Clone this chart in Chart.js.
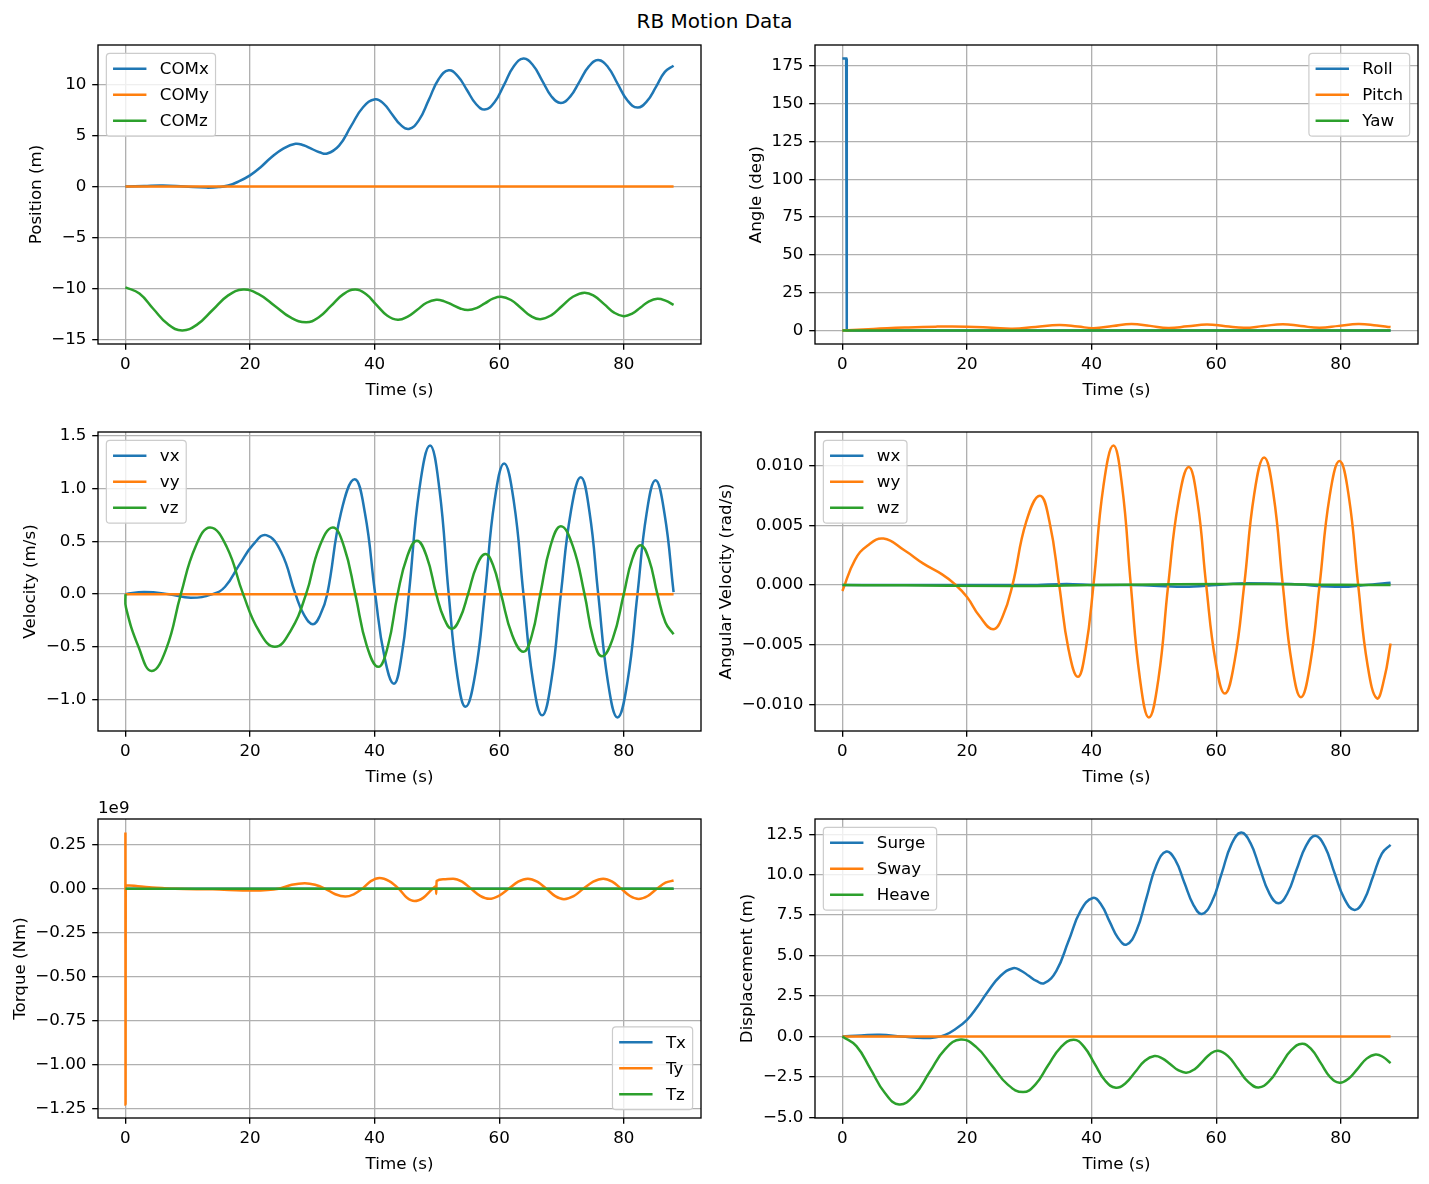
<!DOCTYPE html>
<html>
<head>
<meta charset="utf-8">
<title>RB Motion Data</title>
<script src="https://cdn.jsdelivr.net/npm/chart.js@4.4.0/dist/chart.umd.min.js"></script>
<style>
    html, body { margin: 0; padding: 0; background: #fff; }
    #page { position: relative; width: 1429px; height: 1184px; overflow: hidden; }
    #title { position: absolute; left: 0; top: 11px; width: 1429px; text-align: center;
             font-family: 'DejaVu Sans', sans-serif; font-size: 20px; line-height: 20px; color: #000; }
    canvas { position: absolute; }
</style>
</head>
<body>
<div id="page">
    <div id="title">RB Motion Data</div>
    <canvas id="c-pos"></canvas>
    <canvas id="c-ang"></canvas>
    <canvas id="c-vel"></canvas>
    <canvas id="c-omg"></canvas>
    <canvas id="c-trq"></canvas>
    <canvas id="c-dsp"></canvas>
</div>
<script>
// ---- data ----
var timeTicks = [0, 20, 40, 60, 80];
var timeTickLabels = ['0', '20', '40', '60', '80'];

// series that stay on zero the whole run
var flatT = [0, 88];
var flatV = [0, 0];

// position (m)
var comxT = [0, 3, 6, 9.5, 13, 15, 16.5, 18, 20, 21.7, 23.3, 25.4, 27.3, 28.6, 29.9, 31.15, 32.4, 34.3, 36.2, 38.15, 40.1, 41.45, 42.8, 44.15, 45.5, 47.1, 48.7, 50.3, 51.9, 53.35, 54.8, 56.25, 57.7, 59.25, 60.8, 62.35, 63.9, 65.4, 66.9, 68.4, 69.9, 71.4, 72.9, 74.4, 75.9, 77.45, 79.0, 80.6, 82.2, 83.7, 85.2, 86.6, 88];
var comxV = [0, 0.06, 0.1, 0.0, -0.1, -0.05, 0.1, 0.45, 1.1, 1.9, 2.8, 3.75, 4.2, 4.05, 3.7, 3.37, 3.24, 4.02, 5.9, 7.78, 8.56, 8.13, 7.1, 6.07, 5.65, 6.49, 8.5, 10.55, 11.4, 10.84, 9.5, 8.12, 7.55, 8.27, 10.0, 11.8, 12.55, 11.92, 10.4, 8.84, 8.2, 8.82, 10.3, 11.78, 12.4, 11.73, 10.1, 8.44, 7.75, 8.35, 9.8, 11.25, 11.85];
var comzT = [0, 2.25, 4.5, 6.8, 9.1, 11.55, 14.0, 16.45, 18.9, 21.45, 24.0, 26.5, 29.0, 31.0, 33.0, 34.95, 36.9, 38.6, 40.3, 42.0, 43.7, 45.25, 46.8, 48.35, 49.9, 51.2, 52.5, 53.75, 55.0, 56.35, 57.7, 59.0, 60.3, 61.9, 63.5, 65.05, 66.6, 68.35, 70.1, 71.9, 73.7, 75.3, 76.9, 78.45, 80.0, 81.35, 82.7, 84.05, 85.4, 86.7, 88];
var comzV = [-9.87, -10.49, -12.0, -13.48, -14.1, -13.51, -12.1, -10.69, -10.1, -10.57, -11.7, -12.83, -13.3, -12.83, -11.7, -10.57, -10.1, -10.54, -11.6, -12.63, -13.05, -12.77, -12.1, -11.39, -11.1, -11.25, -11.6, -11.95, -12.1, -11.91, -11.45, -10.99, -10.8, -11.12, -11.9, -12.68, -13.0, -12.62, -11.7, -10.78, -10.4, -10.74, -11.55, -12.36, -12.7, -12.45, -11.85, -11.25, -11.0, -11.18, -11.6];
var posTicks = [-15, -10, -5, 0, 5, 10];
var posTickLabels = ['\u221215', '\u221210', '\u22125', '0', '5', '10'];

// angles (deg)
var rollT = [0, 0.6, 0.7, 88];
var rollV = [180, 180, 0, 0];
var pitchT = [0, 5, 10, 15, 20, 24, 27.3, 31, 34.8, 37.8, 40.3, 43.4, 46.4, 49.4, 52.3, 55.4, 58.5, 61.5, 64.5, 67.6, 70.7, 73.6, 76.6, 79.7, 82.8, 85.8, 88];
var pitchV = [0, 0.9, 1.9, 2.5, 2.5, 1.8, 1.1, 2.3, 3.6, 2.6, 1.5, 2.9, 4.3, 3.0, 1.6, 2.7, 3.9, 2.8, 1.7, 2.9, 4.1, 2.9, 1.8, 3.0, 4.3, 3.3, 2.2];
var angTicks = [0, 25, 50, 75, 100, 125, 150, 175];
var angTickLabels = ['0', '25', '50', '75', '100', '125', '150', '175'];

// velocity (m/s)
var vxT = [0, 3, 7, 10.5, 14, 16, 18.3, 20.5, 22.6, 25.0, 27.3, 28.7, 30.1, 31.25, 32.4, 34.6, 36.8, 38.45, 40.1, 41.6, 43.1, 44.3, 45.5, 47.2, 48.9, 50.4, 51.9, 53.25, 54.6, 56.15, 57.7, 59.25, 60.8, 62.35, 63.9, 65.4, 66.9, 68.4, 69.9, 71.5, 73.1, 74.5, 75.9, 77.45, 79.0, 80.6, 82.2, 83.65, 85.1, 86.55, 88];
var vxV = [0, 0.02, 0, -0.035, 0, 0.07, 0.28, 0.47, 0.56, 0.4, 0, -0.2, -0.285, -0.2, 0, 0.77, 1.09, 0.77, 0, -0.6, -0.85, -0.6, 0, 1.0, 1.41, 1.0, 0, -0.76, -1.07, -0.76, 0, 0.88, 1.24, 0.88, 0, -0.81, -1.15, -0.81, 0, 0.78, 1.11, 0.78, 0, -0.83, -1.17, -0.83, 0, 0.76, 1.08, 0.76, 0.02];
var vzT = [0, 0.1, 2.1, 4.2, 6.55, 8.9, 11.25, 13.6, 16.25, 18.9, 21.45, 24.0, 26.5, 29.0, 31.15, 33.3, 35.1, 36.9, 38.75, 40.6, 42.15, 43.7, 45.25, 46.8, 48.35, 49.9, 51.15, 52.4, 53.7, 55.0, 56.4, 57.8, 59.05, 60.3, 62.1, 63.9, 65.25, 66.6, 68.25, 69.9, 71.8, 73.7, 75.1, 76.5, 78.25, 80.0, 81.35, 82.7, 84.05, 85.4, 86.7, 88];
var vzV = [0, -0.13, -0.5, -0.73, -0.52, 0, 0.45, 0.633, 0.45, 0, -0.35, -0.5, -0.35, 0, 0.45, 0.633, 0.45, 0, -0.49, -0.69, -0.49, 0, 0.36, 0.506, 0.36, 0, -0.23, -0.33, -0.23, 0, 0.27, 0.38, 0.27, 0, -0.39, -0.547, -0.39, 0, 0.46, 0.645, 0.46, 0, -0.42, -0.59, -0.42, 0, 0.33, 0.465, 0.33, 0, -0.27, -0.38];
var velTicks = [-1.0, -0.5, 0, 0.5, 1.0, 1.5];
var velTickLabels = ['\u22121.0', '\u22120.5', '0.0', '0.5', '1.0', '1.5'];

// angular velocity (rad/s)
var wxT = [0, 30, 36, 41, 46, 50, 55, 60, 65, 72, 80, 84, 88];
var wxV = [0, 0, 0.0001, 0, 0, -0.00005, -0.00015, 0, 0.00015, 0.00008, -0.00015, 0, 0.0002];
var wyT = [0, 2, 4, 6.6, 10, 13, 16, 18, 20, 22, 24.2, 25.75, 27.3, 29.5, 31.7, 33.25, 34.8, 36.3, 37.8, 39.05, 40.3, 41.9, 43.5, 44.9, 46.3, 47.75, 49.2, 50.75, 52.3, 53.95, 55.6, 57.0, 58.4, 59.9, 61.4, 62.95, 64.5, 66.1, 67.7, 69.2, 70.7, 72.15, 73.6, 75.1, 76.6, 78.2, 79.8, 81.3, 82.8, 84.3, 85.8, 87, 88];
var wyV = [-0.0005, 0.0021, 0.0033, 0.0039, 0.0029, 0.0018, 0.0009, 0.0001, -0.001, -0.0026, -0.0037, -0.0026, 0, 0.0053, 0.0075, 0.0053, 0, -0.0054, -0.0077, -0.0054, 0, 0.0083, 0.0117, 0.0083, 0, -0.0078, -0.0111, -0.0078, 0, 0.007, 0.0099, 0.007, 0, -0.0064, -0.0091, -0.0064, 0, 0.0076, 0.0107, 0.0076, 0, -0.0066, -0.0094, -0.0066, 0, 0.0074, 0.0104, 0.0074, 0, -0.0067, -0.0095, -0.0078, -0.0049];
var wzT = [0, 10, 28, 40, 50, 62, 68, 80, 88];
var wzV = [0, -0.00002, -0.00008, 0, 0.00005, 0.0001, 0.0001, 0.00002, 0];
var omgTicks = [-0.010, -0.005, 0, 0.005, 0.010];
var omgTickLabels = ['\u22120.010', '\u22120.005', '0.000', '0.005', '0.010'];

// torque (Nm)
var tyT = [0, 0.02, 0.05, 2, 5, 8, 14, 20.4, 24.6, 26.7, 28.8, 30.45, 32.1, 33.7, 35.3, 36.65, 38.0, 39.4, 40.8, 42.35, 43.9, 45.15, 46.4, 47.85, 49.3, 49.85, 49.9, 49.95, 51.0, 52.6, 54.05, 55.5, 56.95, 58.4, 59.95, 61.5, 63.05, 64.6, 66.1, 67.6, 69.0, 70.4, 71.95, 73.5, 75.1, 76.7, 78.15, 79.6, 81.0, 82.4, 83.85, 85.3, 86.7, 88];
var tyV = [0.32e9, -1.227e9, 0.02e9, 0.015e9, 0.006e9, 0, -0.003e9, -0.01e9, 0, 0.023e9, 0.032e9, 0.023e9, 0, -0.031e9, -0.044e9, -0.031e9, 0, 0.044e9, 0.062e9, 0.044e9, 0, -0.05e9, -0.07e9, -0.05e9, 0, 0.015e9, -0.029e9, 0.044e9, 0.054e9, 0.058e9, 0.041e9, 0, -0.04e9, -0.057e9, -0.04e9, 0, 0.041e9, 0.058e9, 0.041e9, 0, -0.042e9, -0.059e9, -0.042e9, 0, 0.041e9, 0.058e9, 0.041e9, 0, -0.041e9, -0.058e9, -0.041e9, 0, 0.035e9, 0.047e9];
var trqTicks = [-1.25e9, -1.0e9, -0.75e9, -0.5e9, -0.25e9, 0, 0.25e9];
var trqTickLabels = ['\u22121.25', '\u22121.00', '\u22120.75', '\u22120.50', '\u22120.25', '0.00', '0.25'];

// displacement (m)
var surgeT = [0, 3, 6, 9.5, 13, 15, 16.5, 18, 20, 21.7, 23.3, 25.4, 27.4, 28.65, 29.9, 31.15, 32.4, 34.35, 36.3, 38.25, 40.2, 41.55, 42.9, 44.25, 45.6, 47.2, 48.8, 50.4, 52.0, 53.45, 54.9, 56.3, 57.7, 59.3, 60.9, 62.45, 64.0, 65.5, 67.0, 68.5, 70.0, 71.45, 72.9, 74.4, 75.9, 77.45, 79.0, 80.6, 82.2, 83.7, 85.2, 86.6, 88];
var surgeV = [0, 0.06, 0.1, 0.0, -0.1, -0.05, 0.1, 0.42, 1.03, 1.85, 2.75, 3.75, 4.22, 4.07, 3.75, 3.43, 3.29, 4.06, 5.9, 7.77, 8.56, 8.14, 7.1, 6.09, 5.68, 6.53, 8.55, 10.58, 11.43, 10.9, 9.5, 8.17, 7.57, 8.31, 10.1, 11.87, 12.6, 11.96, 10.4, 8.87, 8.23, 8.85, 10.3, 11.76, 12.4, 11.73, 10.1, 8.5, 7.82, 8.4, 9.9, 11.3, 11.84];
var heaveT = [0, 2.25, 4.5, 6.8, 9.1, 11.55, 14.0, 16.5, 19.0, 21.5, 24.0, 26.5, 29.0, 31.0, 33.0, 35.05, 37.1, 38.8, 40.5, 42.2, 43.9, 45.45, 47.0, 48.55, 50.1, 51.35, 52.6, 53.9, 55.2, 56.5, 57.8, 59.05, 60.3, 61.9, 63.5, 65.15, 66.8, 68.55, 70.3, 72.05, 73.8, 75.3, 76.8, 78.3, 79.8, 81.25, 82.7, 84.15, 85.6, 86.8, 88];
var heaveV = [0, -0.6, -2.0, -3.48, -4.2, -3.62, -2.2, -0.78, -0.19, -0.66, -1.8, -2.96, -3.44, -2.96, -1.8, -0.67, -0.2, -0.64, -1.7, -2.74, -3.17, -2.89, -2.2, -1.5, -1.21, -1.35, -1.7, -2.08, -2.24, -2.04, -1.55, -1.08, -0.89, -1.22, -2.0, -2.81, -3.15, -2.75, -1.8, -0.85, -0.45, -0.8, -1.65, -2.51, -2.86, -2.61, -2.0, -1.37, -1.11, -1.27, -1.65];
var dspTicks = [-5, -2.5, 0, 2.5, 5, 7.5, 10, 12.5];
var dspTickLabels = ['\u22125.0', '\u22122.5', '0.0', '2.5', '5.0', '7.5', '10.0', '12.5'];

// ---- look ----
var FONT = "'DejaVu Sans', sans-serif";
var FS = 16.7;
var BLUE = '#1f77b4', ORANGE = '#ff7f0e', GREEN = '#2ca02c';

var measureCtx = document.createElement('canvas').getContext('2d');
function textWidth(s) {
    measureCtx.font = FS + 'px ' + FONT;
    return measureCtx.measureText(s).width;
}

function pts(t, v) {
    return t.map(function (x, i) { return { x: x, y: v[i] }; });
}

// matplotlib style 5% margins around the data
function padRange(lists) {
    var lo = Infinity, hi = -Infinity;
    lists.forEach(function (a) {
        a.forEach(function (v) { if (v < lo) lo = v; if (v > hi) hi = v; });
    });
    var m = (hi - lo) * 0.05;
    return [lo - m, hi + m];
}

// frame, offset text and an in-axes legend like matplotlib
var mplLook = {
    id: 'mplLook',
    afterDraw: function (chart, args, opts) {
        var ctx = chart.ctx, a = chart.chartArea;
        ctx.save();
        ctx.strokeStyle = '#000';
        ctx.lineWidth = 1.33;
        ctx.strokeRect(a.left, a.top, a.right - a.left, a.bottom - a.top);

        ctx.font = FS + 'px ' + FONT;
        ctx.fillStyle = '#000';
        if (opts.offsetText) {
            ctx.textAlign = 'left';
            ctx.textBaseline = 'alphabetic';
            ctx.fillText(opts.offsetText, a.left, a.top - 6);
        }

        var items = chart.data.datasets;
        var pad = 0.4 * FS, hl = 2 * FS, htp = 0.8 * FS, rowH = 17.6, gap = 0.5 * FS, bap = 0.5 * FS;
        var tw = 0;
        items.forEach(function (d) { tw = Math.max(tw, ctx.measureText(d.label).width); });
        var w = 2 * pad + hl + htp + tw;
        var h = 2 * pad + items.length * rowH + (items.length - 1) * gap;
        var loc = opts.legendLoc || 'upper left';
        var x0 = loc.indexOf('right') >= 0 ? a.right - bap - w : a.left + bap;
        var y0 = loc.indexOf('lower') >= 0 ? a.bottom - bap - h : a.top + bap;

        ctx.beginPath();
        ctx.roundRect(x0, y0, w, h, 3.5);
        ctx.fillStyle = 'rgba(255,255,255,0.8)';
        ctx.fill();
        ctx.strokeStyle = '#cccccc';
        ctx.lineWidth = 1.2;
        ctx.stroke();

        ctx.textAlign = 'left';
        ctx.textBaseline = 'middle';
        items.forEach(function (d, i) {
            var cy = y0 + pad + i * (rowH + gap) + rowH / 2;
            ctx.beginPath();
            ctx.moveTo(x0 + pad, cy);
            ctx.lineTo(x0 + pad + hl, cy);
            ctx.strokeStyle = d.borderColor;
            ctx.lineWidth = 2.5;
            ctx.stroke();
            ctx.fillStyle = '#000';
            ctx.fillText(d.label, x0 + pad + hl + htp, cy + 1);
        });
        ctx.restore();
    }
};

var gridOpts = {
    color: '#b0b0b0',
    lineWidth: 1.33,
    drawTicks: true,
    tickLength: 5.8,
    tickColor: '#000',
    tickWidth: 1.33
};

function makePanel(p) {
    var canvas = document.getElementById(p.id);
    canvas.width = p.w;
    canvas.height = 391;
    canvas.style.left = p.x + 'px';
    canvas.style.top = p.y + 'px';
    canvas.style.width = p.w + 'px';
    canvas.style.height = '391px';

    var allT = [], allV = [];
    p.series.forEach(function (s) { allT.push(s.t); allV.push(s.v); });
    var xr = padRange(allT);
    var yr = padRange(allV);

    var widest = 0;
    p.tickLabels.forEach(function (s) { widest = Math.max(widest, textWidth(s)); });
    var yTitleCenter = p.yw - 26.5 - widest;

    var n = p.series.length;
    var datasets = p.series.map(function (s, i) {
        return {
            label: s.label,
            data: pts(s.t, s.v),
            borderColor: s.color,
            backgroundColor: s.color,
            borderWidth: 2.5,
            pointRadius: 0,
            fill: false,
            tension: s.tension === undefined ? 0.45 : s.tension,
            cubicInterpolationMode: s.mode || 'default',
            order: n - i
        };
    });

    new Chart(canvas.getContext('2d'), {
        type: 'line',
        data: { datasets: datasets },
        plugins: [mplLook],
        options: {
            responsive: false,
            animation: false,
            devicePixelRatio: 1,
            layout: { padding: { left: 0, right: p.w - p.yw - 603, top: 35, bottom: 0 } },
            plugins: {
                legend: { display: false },
                tooltip: { enabled: false },
                mplLook: { legendLoc: p.legendLoc, offsetText: p.offsetText }
            },
            scales: {
                x: {
                    type: 'linear',
                    bounds: 'data',
                    min: xr[0],
                    max: xr[1],
                    afterBuildTicks: function (s) { s.ticks = timeTicks.map(function (v) { return { value: v }; }); },
                    afterFit: function (s) { s.height = 57; s.paddingLeft = 0; s.paddingRight = 0; },
                    ticks: {
                        autoSkip: false, maxRotation: 0, padding: 5, color: '#000',
                        font: { family: FONT, size: FS },
                        callback: function (v, i) { return timeTickLabels[i]; }
                    },
                    grid: gridOpts,
                    border: { display: false },
                    title: { display: true, text: 'Time (s)', color: '#000', font: { family: FONT, size: FS }, padding: 0 }
                },
                y: {
                    type: 'linear',
                    bounds: 'data',
                    min: yr[0],
                    max: yr[1],
                    afterBuildTicks: function (s) { s.ticks = p.ticks.map(function (v) { return { value: v }; }); },
                    afterFit: function (s) { s.width = p.yw; s.paddingTop = 0; s.paddingBottom = 0; },
                    ticks: {
                        autoSkip: false, padding: 5.8, color: '#000',
                        font: { family: FONT, size: FS },
                        callback: function (v, i) { return p.tickLabels[i]; }
                    },
                    grid: gridOpts,
                    border: { display: false },
                    title: {
                        display: true, text: p.yTitle, color: '#000',
                        font: { family: FONT, size: FS },
                        padding: { top: yTitleCenter - FS * 0.6, bottom: 0 }
                    }
                }
            }
        }
    });
}

var LEFT = { x: 0, w: 712, yw: 98 };
var RIGHT = { x: 714, w: 715, yw: 101 };
var ROWS = [10, 397, 784];

makePanel({
    id: 'c-pos', x: LEFT.x, w: LEFT.w, yw: LEFT.yw, y: ROWS[0],
    yTitle: 'Position (m)', ticks: posTicks, tickLabels: posTickLabels, legendLoc: 'upper left',
    series: [
        { label: 'COMx', t: comxT, v: comxV, color: BLUE },
        { label: 'COMy', t: flatT, v: flatV, color: ORANGE, tension: 0 },
        { label: 'COMz', t: comzT, v: comzV, color: GREEN }
    ]
});

makePanel({
    id: 'c-ang', x: RIGHT.x, w: RIGHT.w, yw: RIGHT.yw, y: ROWS[0],
    yTitle: 'Angle (deg)', ticks: angTicks, tickLabels: angTickLabels, legendLoc: 'upper right',
    series: [
        { label: 'Roll', t: rollT, v: rollV, color: BLUE, tension: 0 },
        { label: 'Pitch', t: pitchT, v: pitchV, color: ORANGE },
        { label: 'Yaw', t: flatT, v: flatV, color: GREEN, tension: 0 }
    ]
});

makePanel({
    id: 'c-vel', x: LEFT.x, w: LEFT.w, yw: LEFT.yw, y: ROWS[1],
    yTitle: 'Velocity (m/s)', ticks: velTicks, tickLabels: velTickLabels, legendLoc: 'upper left',
    series: [
        { label: 'vx', t: vxT, v: vxV, color: BLUE },
        { label: 'vy', t: flatT, v: flatV, color: ORANGE, tension: 0 },
        { label: 'vz', t: vzT, v: vzV, color: GREEN }
    ]
});

makePanel({
    id: 'c-omg', x: RIGHT.x, w: RIGHT.w, yw: RIGHT.yw, y: ROWS[1],
    yTitle: 'Angular Velocity (rad/s)', ticks: omgTicks, tickLabels: omgTickLabels, legendLoc: 'upper left',
    series: [
        { label: 'wx', t: wxT, v: wxV, color: BLUE, mode: 'monotone' },
        { label: 'wy', t: wyT, v: wyV, color: ORANGE },
        { label: 'wz', t: wzT, v: wzV, color: GREEN, mode: 'monotone' }
    ]
});

makePanel({
    id: 'c-trq', x: LEFT.x, w: LEFT.w, yw: LEFT.yw, y: ROWS[2],
    yTitle: 'Torque (Nm)', ticks: trqTicks, tickLabels: trqTickLabels, legendLoc: 'lower right',
    offsetText: '1e9',
    series: [
        { label: 'Tx', t: flatT, v: flatV, color: BLUE, tension: 0 },
        { label: 'Ty', t: tyT, v: tyV, color: ORANGE, mode: 'monotone' },
        { label: 'Tz', t: flatT, v: flatV, color: GREEN, tension: 0 }
    ]
});

makePanel({
    id: 'c-dsp', x: RIGHT.x, w: RIGHT.w, yw: RIGHT.yw, y: ROWS[2],
    yTitle: 'Displacement (m)', ticks: dspTicks, tickLabels: dspTickLabels, legendLoc: 'upper left',
    series: [
        { label: 'Surge', t: surgeT, v: surgeV, color: BLUE },
        { label: 'Sway', t: flatT, v: flatV, color: ORANGE, tension: 0 },
        { label: 'Heave', t: heaveT, v: heaveV, color: GREEN }
    ]
});
</script>
</body>
</html>
